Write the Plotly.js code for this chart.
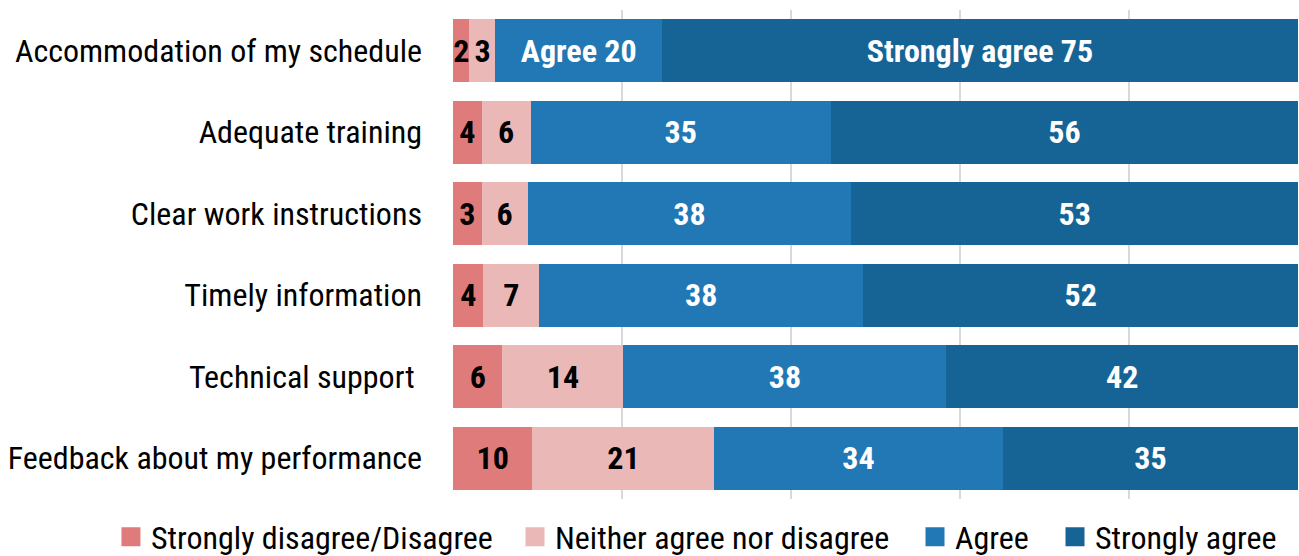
<!DOCTYPE html>
<html>
<head>
<meta charset="utf-8">
<script src="https://cdn.plot.ly/plotly-3.0.1.min.js"></script>
<style>html,body{margin:0;padding:0;background:#fff;}</style>
</head>
<body>
<div id="chart" style="width:1299px;height:556px;"></div>
<script>
const categories = [
  "Accommodation of my schedule",
  "Adequate training",
  "Clear work instructions",
  "Timely information",
  "Technical support\u00a0",
  "Feedback about my performance"
];
const seriesNames = ["Strongly disagree/Disagree", "Neither agree nor disagree", "Agree", "Strongly agree"];
const disagreeValues = [1.95, 3.37, 3.37, 3.6, 5.85, 9.4];
const neitherValues  = [3.07, 5.8, 5.44, 6.6, 14.3, 21.5];
const agreeValues    = [19.7, 35.5, 38.3, 38.3, 38.2, 34.1];
const stronglyValues = [75.2, 55.3, 52.85, 51.45, 41.6, 34.95];
const disagreeLabels = ["2", "4", "3", "4", "6", "10"];
const neitherLabels  = ["3", "6", "6", "7", "14", "21"];
const agreeLabels    = ["Agree 20", "35", "38", "38", "38", "34"];
const stronglyLabels = ["Strongly agree 75", "56", "53", "52", "42", "35"];
const colors = ["#e07b7b", "#ebb8b8", "#2178b5", "#166496"];
const textColors = ["#000000", "#000000", "#ffffff", "#ffffff"];

const FONT = "'Roboto Condensed', Roboto, 'Liberation Sans', sans-serif";

const valueSets = [disagreeValues, neitherValues, agreeValues, stronglyValues];
const labelSets = [disagreeLabels, neitherLabels, agreeLabels, stronglyLabels];

const traces = [];
valueSets.forEach((vals, i) => {
  traces.push({
    type: "bar",
    orientation: "h",
    name: seriesNames[i],
    x: vals,
    y: categories,
    text: labelSets[i],
    textposition: "inside",
    insidetextanchor: "middle",
    textangle: 0,
    constraintext: "none",
    cliponaxis: false,
    texttemplate: "%{text}",
    textfont: {family: FONT, size: 32, color: textColors[i], weight: "bold"},
    marker: {color: colors[i], line: {width: 0}},
    showlegend: false,
    hoverinfo: "skip"
  });
});

// legend entries (one legend per entry for exact placement)
const legendX = [-0.4043, 0.0733, 0.5461, 0.7116];
const legendKeys = ["legend", "legend2", "legend3", "legend4"];
seriesNames.forEach((nm, i) => {
  traces.push({
    type: "scatter",
    mode: "markers",
    name: nm,
    x: [null],
    y: [categories[0]],
    legend: legendKeys[i],
    marker: {symbol: "square", size: 16, color: colors[i], line: {color: colors[i], width: 3}},
    showlegend: true,
    hoverinfo: "skip"
  });
});

const layout = {
  width: 1299,
  height: 556,
  margin: {l: 453, r: 0, t: 10, b: 57, pad: 0, autoexpand: false},
  paper_bgcolor: "#ffffff",
  plot_bgcolor: "#ffffff",
  barmode: "stack",
  bargap: 0.227,
  font: {family: FONT, size: 32, color: "#000000"},
  xaxis: {
    range: [0, 100.05],
    dtick: 20,
    tick0: 0,
    showgrid: true,
    gridcolor: "#d9d9d9",
    gridwidth: 2,
    zeroline: false,
    showticklabels: false,
    showline: false,
    ticks: "",
    fixedrange: true
  },
  yaxis: {
    type: "category",
    autorange: "reversed",
    showgrid: false,
    zeroline: false,
    showline: false,
    ticks: "",
    ticklabelstandoff: 30,
    tickfont: {family: FONT, size: 32, color: "#000000"},
    fixedrange: true
  },
  showlegend: true
};
legendKeys.forEach((k, i) => {
  layout[k] = {
    orientation: "h",
    x: legendX[i],
    xanchor: "left",
    y: -0.0777,
    yanchor: "middle",
    bgcolor: "rgba(0,0,0,0)",
    borderwidth: 0,
    font: {family: FONT, size: 32, color: "#000000"},
    itemclick: false,
    itemdoubleclick: false
  };
});

Plotly.newPlot("chart", traces, layout, {displayModeBar: false, staticPlot: true});
</script>
</body>
</html>
